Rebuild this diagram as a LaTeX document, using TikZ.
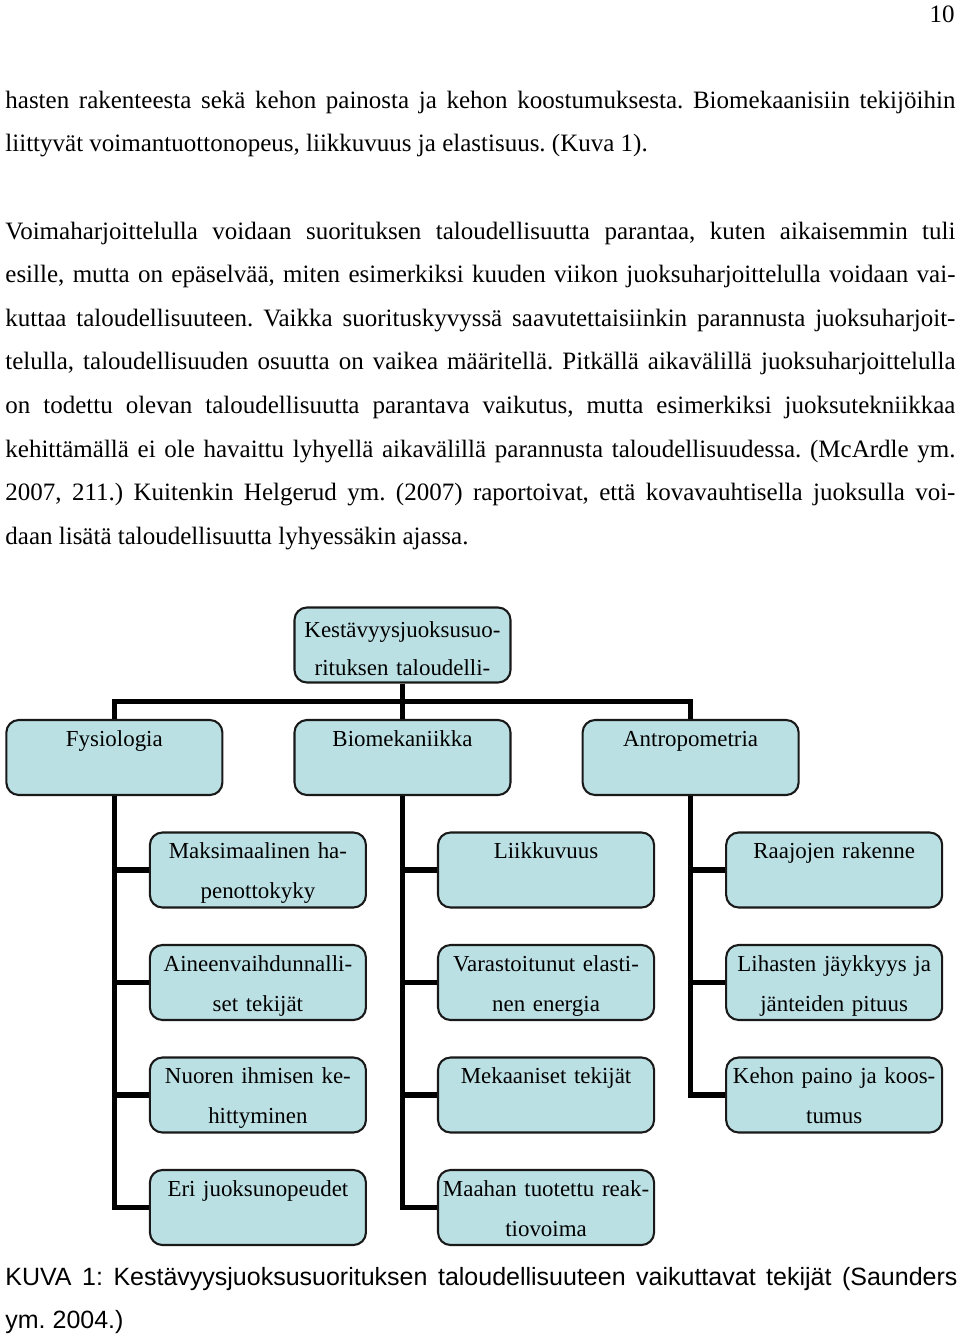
\documentclass[tikz,border=0pt]{standalone}
\usepackage{fontspec}
\setmainfont{Liberation Serif}
\newfontfamily\kuvafont{Liberation Sans}
\usepackage{tikz}
\usetikzlibrary{positioning,calc}
\frenchspacing

\definecolor{boxblue}{RGB}{187,224,228}
\definecolor{boxline}{RGB}{25,25,25}
\newcommand{\jl}[1]{{\spaceskip=0pt\xspaceskip=0pt\makebox[\hsize][s]{#1}}}   % justified line

\begin{document}
\begin{tikzpicture}[
    x=0.48pt, y=-0.48pt,                             % 1 unit = 1 px of the page
    node distance = 17pt and 33.6pt,                 % vert / horiz gap
    factor/.style = {rectangle, draw=boxline, line width=1pt,
                     rounded corners=6pt, fill=boxblue,
                     text width=100pt, align=center,
                     inner xsep=1.85pt, inner ysep=0pt,
                     minimum width=103.7pt, minimum height=36pt,
                     text height=12.5pt, text depth=23.5pt,
                     font=\fontsize{11}{19.2}\selectfont},
    rootbox/.style = {factor, text height=14.5pt, text depth=21.5pt,
                      font=\fontsize{11}{18}\selectfont},
    subfactor/.style = {factor, below=of #1},
    para/.style = {anchor=base west, inner sep=0pt, text width=456pt,
                   align=justify, font=\fontsize{12}{20.93}\selectfont},
    link/.style = {line width=2.6pt, draw=black},
]
\useasboundingbox (0,0) rectangle (960,1335);

%–––– TEXT OF THE PAGE ––––
\node (pagenum) [anchor=base east, inner sep=0pt, font=\fontsize{12}{14}\selectfont] at (955,22) {10};

\node (para1) [para] at (5,108) {%
  \jl{hasten rakenteesta sekä kehon painosta ja kehon koostumuksesta. Biomekaanisiin tekijöihin}\\
  liittyvät voimantuottonopeus, liikkuvuus ja elastisuus. (Kuva 1).};

\node (para2) [para] at (5,239) {%
  \jl{Voimaharjoittelulla voidaan suorituksen taloudellisuutta parantaa, kuten aikaisemmin tuli}\\
  \jl{esille, mutta on epäselvää, miten esimerkiksi kuuden viikon juoksuharjoittelulla voidaan vai-}\\
  \jl{kuttaa taloudellisuuteen. Vaikka suorituskyvyssä saavutettaisiinkin parannusta juoksuharjoit-}\\
  \jl{telulla, taloudellisuuden osuutta on vaikea määritellä. Pitkällä aikavälillä juoksuharjoittelulla}\\
  \jl{on todettu olevan taloudellisuutta parantava vaikutus, mutta esimerkiksi juoksutekniikkaa}\\
  \jl{kehittämällä ei ole havaittu lyhyellä aikavälillä parannusta taloudellisuudessa. (McArdle ym.}\\
  \jl{2007, 211.) Kuitenkin Helgerud ym. (2007) raportoivat, että kovavauhtisella juoksulla voi-}\\
  daan lisätä taloudellisuutta lyhyessäkin ajassa.};

%–––– MAIN TREE ––––
\node (root)   [rootbox] at (402.5,645) {Kestävyysjuoksusuo-\\rituksen taloudelli-};

\node (biomek) [factor, below=of root]   {Biomekaniikka};
\node (fysio)  [factor, left=of biomek]  {Fysiologia};
\node (antro)  [factor, right=of biomek] {Antropometria};

%–––– FYSIOLOGIA ––––
\node (hapenotto) [subfactor=fysio, xshift=68.9pt] {Maksimaalinen ha-\\penottokyky};
\node (aineenv)   [subfactor=hapenotto]            {Aineenvaihdunnalli-\\set tekijät};
\node (nuoren)    [subfactor=aineenv]              {Nuoren ihmisen ke-\\hittyminen};
\node (juoksunop) [subfactor=nuoren]               {Eri juoksunopeudet};

%–––– BIOMEKANIIKKA ––––
\node (liikkuvuus) [subfactor=biomek, xshift=68.9pt] {Liikkuvuus};
\node (elastinen)  [subfactor=liikkuvuus]            {Varastoitunut elasti-\\nen energia};
\node (mekaaniset) [subfactor=elastinen]             {Mekaaniset tekijät};
\node (reaktio)    [subfactor=mekaaniset]            {Maahan tuotettu reak-\\tiovoima};

%–––– ANTROPOMETRIA ––––
\node (raajat)   [subfactor=antro, xshift=68.9pt] {Raajojen rakenne};
\node (jaykkyys) [subfactor=raajat]               {Lihasten jäykkyys ja\\jänteiden pituus};
\node (kehon)    [subfactor=jaykkyys]             {Kehon paino ja koos-\\tumus};

%–––– CONNECTORS ––––
\coordinate (bar) at ($(root.south)!.5!(biomek.north)$);
\draw[link] (fysio.north) |- (bar) -| (antro.north);
\draw[link] (root) -- (biomek);

\foreach \a/\b in {
  fysio/hapenotto, fysio/aineenv, fysio/nuoren, fysio/juoksunop,
  biomek/liikkuvuus, biomek/elastinen, biomek/mekaaniset, biomek/reaktio,
  antro/raajat, antro/jaykkyys, antro/kehon}
  \draw[link] (\a) |- (\b);

%–––– CAPTION ––––
\node (caption) [para, font=\kuvafont\fontsize{12}{20.64}\selectfont, text width=457pt] at (5,1285) {%
  \jl{KUVA 1: Kestävyysjuoksusuorituksen taloudellisuuteen vaikuttavat tekijät (Saunders}\\
  ym. 2004.)};
\end{tikzpicture}
\end{document}
